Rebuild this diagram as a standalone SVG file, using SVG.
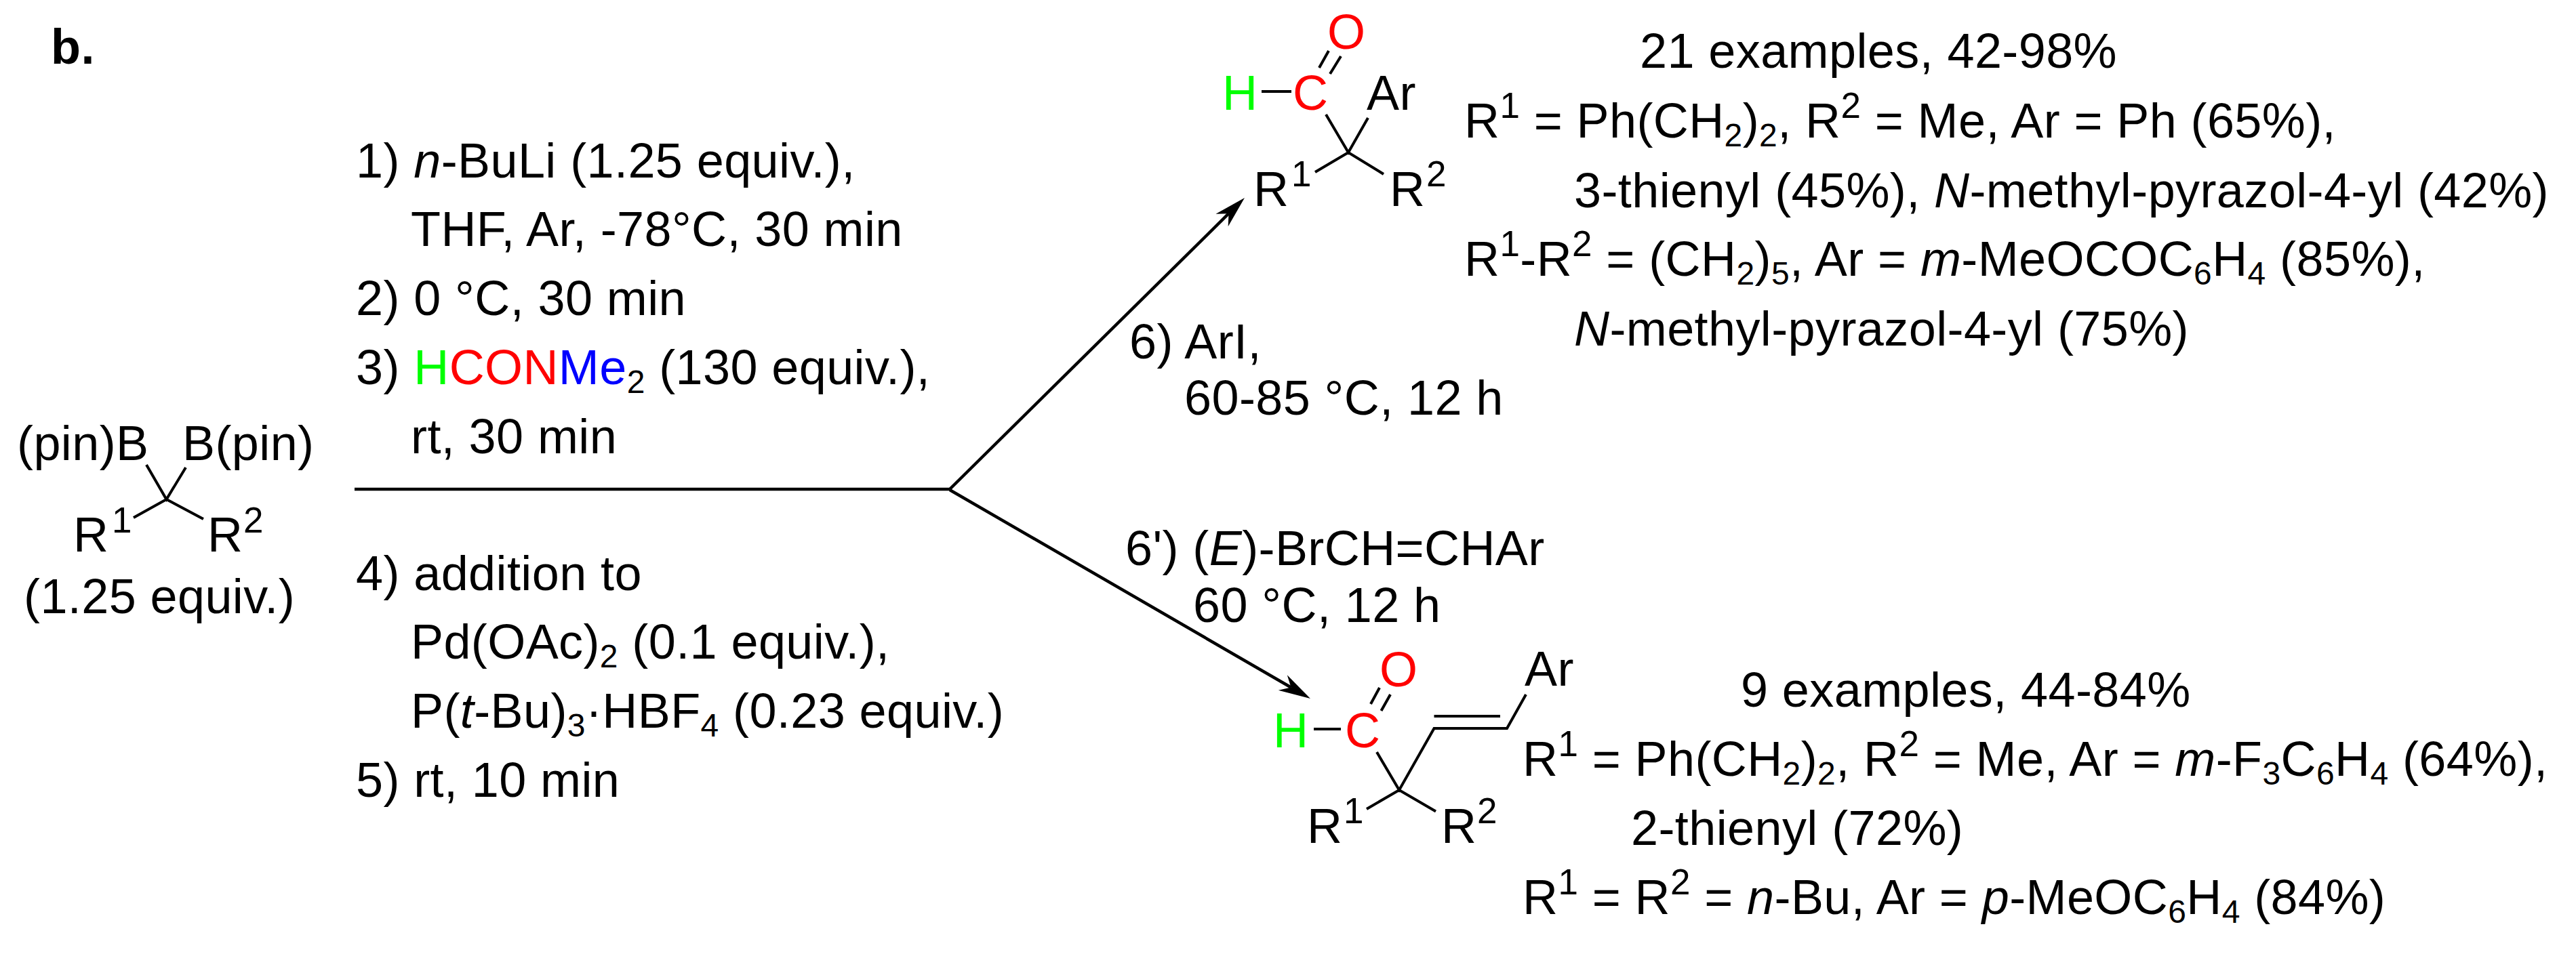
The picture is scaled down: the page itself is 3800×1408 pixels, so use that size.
<svg xmlns="http://www.w3.org/2000/svg" width="3800" height="1408" viewBox="0 0 3800 1408">
<style>
text{font-family:"Liberation Sans",Arial,sans-serif;font-size:72px;fill:#000;letter-spacing:.4px}
.b{font-weight:bold}
.i{font-style:italic}
.u{font-size:53px}
.d{font-size:48px}
.r{fill:#f00}.g{fill:#0f0}.bl{fill:#00f}
.bond{stroke:#000;stroke-width:4;fill:none}
.conn{stroke:#000;stroke-width:4.5;fill:none}
</style>
<defs>
<marker id="ah" markerUnits="userSpaceOnUse" markerWidth="50" markerHeight="28" refX="14" refY="14" orient="auto" viewBox="0 0 50 28">
<path d="M0,1 L47,14 L0,27 L14,14 Z" fill="#000"/>
</marker>
</defs>
<rect width="3800" height="1408" fill="#fff"/>
<text id="label-b" class="b" x="75" y="94">b.</text>
<g id="connectors">
<path class="conn" d="M523,722 H1401"/>
<path class="conn" d="M1401,722 L1812.5,315.2" marker-end="url(#ah)"/>
<path class="conn" d="M1401,723 L1904.4,1014.5" marker-end="url(#ah)"/>
</g>
<g id="reactant">
<text x="25" y="679">(pin)B</text>
<text x="269" y="679">B(pin)</text>
<path class="bond" d="M216,686 L245.5,737 L274,690 M197,764 L245.5,737 L300,766"/>
<text x="108" y="814">R</text><text class="u" x="165" y="786">1</text>
<text x="306" y="814">R</text><text class="u" x="359" y="786">2</text>
<text x="35" y="905" letter-spacing=".8">(1.25 equiv.)</text>
</g>
<g id="conditions-common">
<text x="525" y="262" letter-spacing=".6">1) <tspan class="i">n</tspan>-BuLi (1.25 equiv.),</text>
<text x="606" y="363" letter-spacing="1">THF, Ar, -78°C, 30 min</text>
<text x="525" y="465">2) 0 °C, 30 min</text>
<text x="525" y="567" letter-spacing=".6">3) <tspan class="g">H</tspan><tspan class="r">CON</tspan><tspan class="bl">Me</tspan><tspan class="d" dy="13">2</tspan><tspan dy="-13"> (130 equiv.),</tspan></text>
<text x="606" y="669">rt, 30 min</text>
<text x="525" y="871">4) addition to</text>
<text x="606" y="972" letter-spacing=".5">Pd(OAc)<tspan class="d" dy="13">2</tspan><tspan dy="-13"> (0.1 equiv.),</tspan></text>
<text x="606" y="1074">P(<tspan class="i">t</tspan>-Bu)<tspan class="d" dy="13">3</tspan><tspan dy="-13">·HBF</tspan><tspan class="d" dy="13">4</tspan><tspan dy="-13"> (0.23 equiv.)</tspan></text>
<text x="525" y="1176">5) rt, 10 min</text>
</g>
<g id="conditions-top">
<text x="1666" y="529">6) ArI,</text>
<text x="1747" y="612" letter-spacing=".2">60-85 °C, 12 h</text>
</g>
<g id="conditions-bottom">
<text x="1660" y="834" letter-spacing=".7">6') (<tspan class="i">E</tspan>)-BrCH=CHAr</text>
<text x="1760" y="918" letter-spacing=".2">60 °C, 12 h</text>
</g>
<g id="product-top">
<text class="r" x="1958" y="72">O</text>
<text class="g" x="1803" y="162">H</text>
<text class="r" x="1907" y="162">C</text>
<text x="2016" y="162">Ar</text>
<path class="bond" d="M1960,75 L1946,100 M1978,83 L1962,109 M1861,135 H1905 M1956,169 L1989,225 L2018,174 M1940,254 L1989,225 L2041,257"/>
<text x="1849" y="304">R</text><text class="u" x="1905" y="275">1</text>
<text x="2050" y="304">R</text><text class="u" x="2104" y="275">2</text>
</g>
<g id="yields-top">
<text x="2419" y="100" letter-spacing=".2">21 examples, 42-98%</text>
<text x="2160" y="203" letter-spacing=".9">R<tspan class="u" dy="-29">1</tspan><tspan dy="29"> = Ph(CH</tspan><tspan class="d" dy="13">2</tspan><tspan dy="-13">)</tspan><tspan class="d" dy="13">2</tspan><tspan dy="-13">, R</tspan><tspan class="u" dy="-29">2</tspan><tspan dy="29"> = Me, Ar = Ph (65%),</tspan></text>
<text x="2322" y="306" letter-spacing=".6">3-thienyl (45%), <tspan class="i">N</tspan>-methyl-pyrazol-4-yl (42%)</text>
<text x="2160" y="407" letter-spacing=".9">R<tspan class="u" dy="-29">1</tspan><tspan dy="29">-R</tspan><tspan class="u" dy="-29">2</tspan><tspan dy="29"> = (CH</tspan><tspan class="d" dy="13">2</tspan><tspan dy="-13">)</tspan><tspan class="d" dy="13">5</tspan><tspan dy="-13">, Ar = </tspan><tspan class="i">m</tspan>-MeOCOC<tspan class="d" dy="13">6</tspan><tspan dy="-13">H</tspan><tspan class="d" dy="13">4</tspan><tspan dy="-13"> (85%),</tspan></text>
<text x="2322" y="510"><tspan class="i">N</tspan>-methyl-pyrazol-4-yl (75%)</text>
</g>
<g id="product-bottom">
<text class="r" x="2035" y="1013">O</text>
<text class="g" x="1878" y="1103">H</text>
<text class="r" x="1984" y="1103">C</text>
<text x="2249" y="1012">Ar</text>
<path class="bond" d="M2035,1015 L2022,1039 M2051,1025 L2037.5,1049 M1938,1076 H1978 M2031,1110 L2064,1166 L2115.5,1075 H2223 L2251,1025 M2115.5,1057 H2213 M2016,1194 L2064,1166 L2118,1197.5"/>
<text x="1928" y="1244">R</text><text class="u" x="1982" y="1215">1</text>
<text x="2126" y="1244">R</text><text class="u" x="2179" y="1215">2</text>
</g>
<g id="yields-bottom">
<text x="2568" y="1043" letter-spacing=".3">9 examples, 44-84%</text>
<text x="2246" y="1145" letter-spacing="1.2">R<tspan class="u" dy="-29">1</tspan><tspan dy="29"> = Ph(CH</tspan><tspan class="d" dy="13">2</tspan><tspan dy="-13">)</tspan><tspan class="d" dy="13">2</tspan><tspan dy="-13">, R</tspan><tspan class="u" dy="-29">2</tspan><tspan dy="29"> = Me, Ar = </tspan><tspan class="i">m</tspan>-F<tspan class="d" dy="13">3</tspan><tspan dy="-13">C</tspan><tspan class="d" dy="13">6</tspan><tspan dy="-13">H</tspan><tspan class="d" dy="13">4</tspan><tspan dy="-13"> (64%),</tspan></text>
<text x="2406" y="1247">2-thienyl (72%)</text>
<text x="2246" y="1349" letter-spacing=".6">R<tspan class="u" dy="-29">1</tspan><tspan dy="29"> = R</tspan><tspan class="u" dy="-29">2</tspan><tspan dy="29"> = </tspan><tspan class="i">n</tspan>-Bu, Ar = <tspan class="i">p</tspan>-MeOC<tspan class="d" dy="13">6</tspan><tspan dy="-13">H</tspan><tspan class="d" dy="13">4</tspan><tspan dy="-13"> (84%)</tspan></text>
</g>
</svg>
